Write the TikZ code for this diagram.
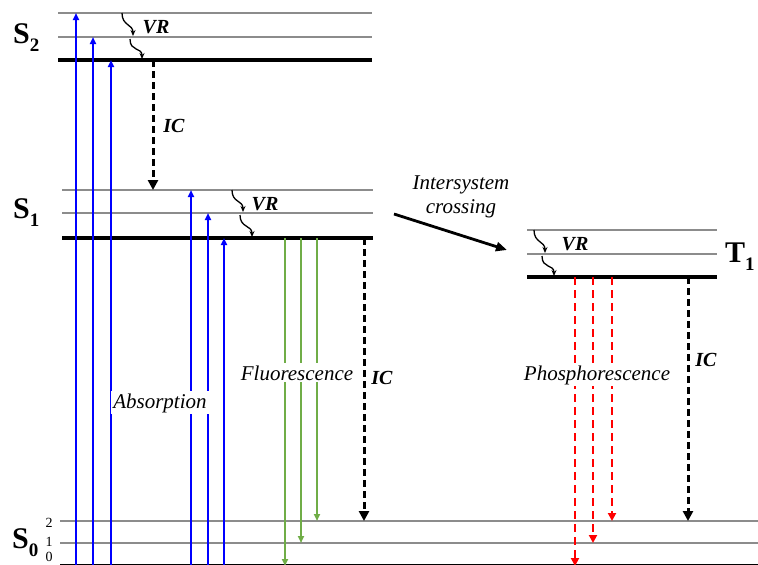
\documentclass[tikz,border=0pt]{standalone}
\usepackage{fontspec}
\setmainfont{Liberation Serif}
\usetikzlibrary{arrows.meta}
\definecolor{cAbs}{HTML}{0000FF}
\definecolor{cFluo}{HTML}{70AD47}
\definecolor{cPhos}{HTML}{FF0000}
\definecolor{cLvl}{HTML}{8C8C8C}
\newcommand{\statename}[2]{#1\raisebox{-8pt}{\fontsize{19}{19}\selectfont #2}}

\begin{document}
\begin{tikzpicture}[
  x=1pt, y=-1pt,
  vib/.style={draw=cLvl, line width=1.8pt},
  ground/.style={draw=black, line width=4pt},
  absorb/.style={draw=cAbs, line width=1.8pt, -{Triangle[length=7pt,width=6pt]}},
  fluo/.style={draw=cFluo, line width=1.8pt, -{Triangle[length=7pt,width=6pt]}},
  phos/.style={draw=cPhos, line width=2.2pt, dash pattern=on 8pt off 5pt,
               -{Triangle[length=8pt,width=8pt]}},
  icarr/.style={draw=black, line width=3pt, dash pattern=on 7pt off 4pt,
                -{Triangle[length=10pt,width=10pt]}},
  vr/.style={draw=black, line width=1.3pt, -{Stealth[length=6pt,width=5pt]}},
  isc/.style={draw=black, line width=2.8pt, -{Triangle[length=11pt,width=9pt]}},
  lbl/.style={font=\fontsize{21}{24}\selectfont\itshape, inner sep=1pt},
  boxlbl/.style={lbl, fill=white, anchor=base, inner sep=2pt},
  tag/.style={font=\fontsize{20}{24}\selectfont\bfseries\itshape, anchor=base, inner sep=0pt},
  state/.style={font=\fontsize{30}{30}\selectfont\bfseries, anchor=base west, inner sep=0pt},
  vnum/.style={font=\fontsize{14}{14}\selectfont, inner sep=0pt},
]
\clip (0,0) rectangle (758,565);

% ---------------- levels ----------------
\coordinate (s2v2) at (58,13);  \coordinate (s2v1) at (58,37);  \coordinate (s2v0) at (58,60);
\coordinate (s1v2) at (62,190); \coordinate (s1v1) at (62,213); \coordinate (s1v0) at (62,238);
\coordinate (t1v2) at (527,230);\coordinate (t1v1) at (527,254);\coordinate (t1v0) at (527,277);
\coordinate (s0v2) at (60,521); \coordinate (s0v1) at (60,543); \coordinate (s0v0) at (60,566);

\draw[vib] (s2v2) -- +(314,0);  \draw[vib] (s2v1) -- +(314,0);  \draw[ground] (s2v0) -- +(314,0);
\draw[vib] (s1v2) -- +(311,0);  \draw[vib] (s1v1) -- +(311,0);  \draw[ground] (s1v0) -- +(311,0);
\draw[vib] (t1v2) -- +(190,0);  \draw[vib] (t1v1) -- +(190,0);  \draw[ground] (t1v0) -- +(190,0);
\draw[vib] (s0v2) -- +(700,0);  \draw[vib] (s0v1) -- +(700,0);  \draw[ground] (s0v0) -- +(700,0);

\node[state] (S2) at (13,43)  {\statename{S}{2}};
\node[state] (S1) at (13,218) {\statename{S}{1}};
\node[state] (S0) at (12,548) {\statename{S}{0}};
\node[state] (T1) at (725,262) {\statename{T}{1}};

\node[vnum] (n2) at (49,523) {2};
\node[vnum] (n1) at (49,542) {1};
\node[vnum] (n0) at (49,557) {0};

% ---------------- transitions ----------------
\foreach \x/\lv in {76/s2v2, 93/s2v1, 111/s2v0, 191/s1v2, 208/s1v1, 224/s1v0}
  \draw[absorb] (\x,575) -- (\x,0 |- \lv);

\foreach \x/\lv in {285/s0v0, 301/s0v1, 317/s0v2}
  \draw[fluo] (\x,0 |- s1v0) -- (\x,0 |- \lv);

\foreach \x/\lv in {575/s0v0, 593/s0v1, 612/s0v2}
  \draw[phos] (\x,0 |- t1v0) -- (\x,0 |- \lv);

\draw[icarr] (153,0 |- s2v0) -- (153,0 |- s1v2);
\draw[icarr] (364,0 |- s1v0) -- (364,0 |- s0v2);
\draw[icarr] (688,0 |- t1v0) -- (688,0 |- s0v2);

% vibrational relaxation
\foreach \x/\a/\b/\c in {122/13/37/60, 232/190/213/238, 534/230/254/277} {
  \draw[vr] (\x,\a) .. controls +(0,13) and +(0,-12) .. (\x+11,\b-1);
  \draw[vr] (\x+8,\b+2) .. controls +(0,13) and +(0,-12) .. (\x+20,\c-1);
}

\coordinate (iscA) at (394,214);
\coordinate (iscB) at (507,250);
\draw[isc] (iscA) -- (iscB);

% ---------------- labels ----------------
\node[boxlbl] (absl)  at (160,408) {Absorption};
\node[boxlbl] (fluol) at (297,380) {Fluorescence};
\node[boxlbl] (phosl) at (597,380) {Phosphorescence};
\node[lbl, align=center] (iscl) at (461,197) {Intersystem\\crossing};

\node[tag] (vra) at (156,33)  {VR};
\node[tag] (vrb) at (265,210) {VR};
\node[tag] (vrc) at (575,250) {VR};
\node[tag] (ica) at (174,132) {IC};
\node[tag] (icb) at (382,384) {IC};
\node[tag] (icc) at (706,366) {IC};

\end{tikzpicture}
\end{document}
